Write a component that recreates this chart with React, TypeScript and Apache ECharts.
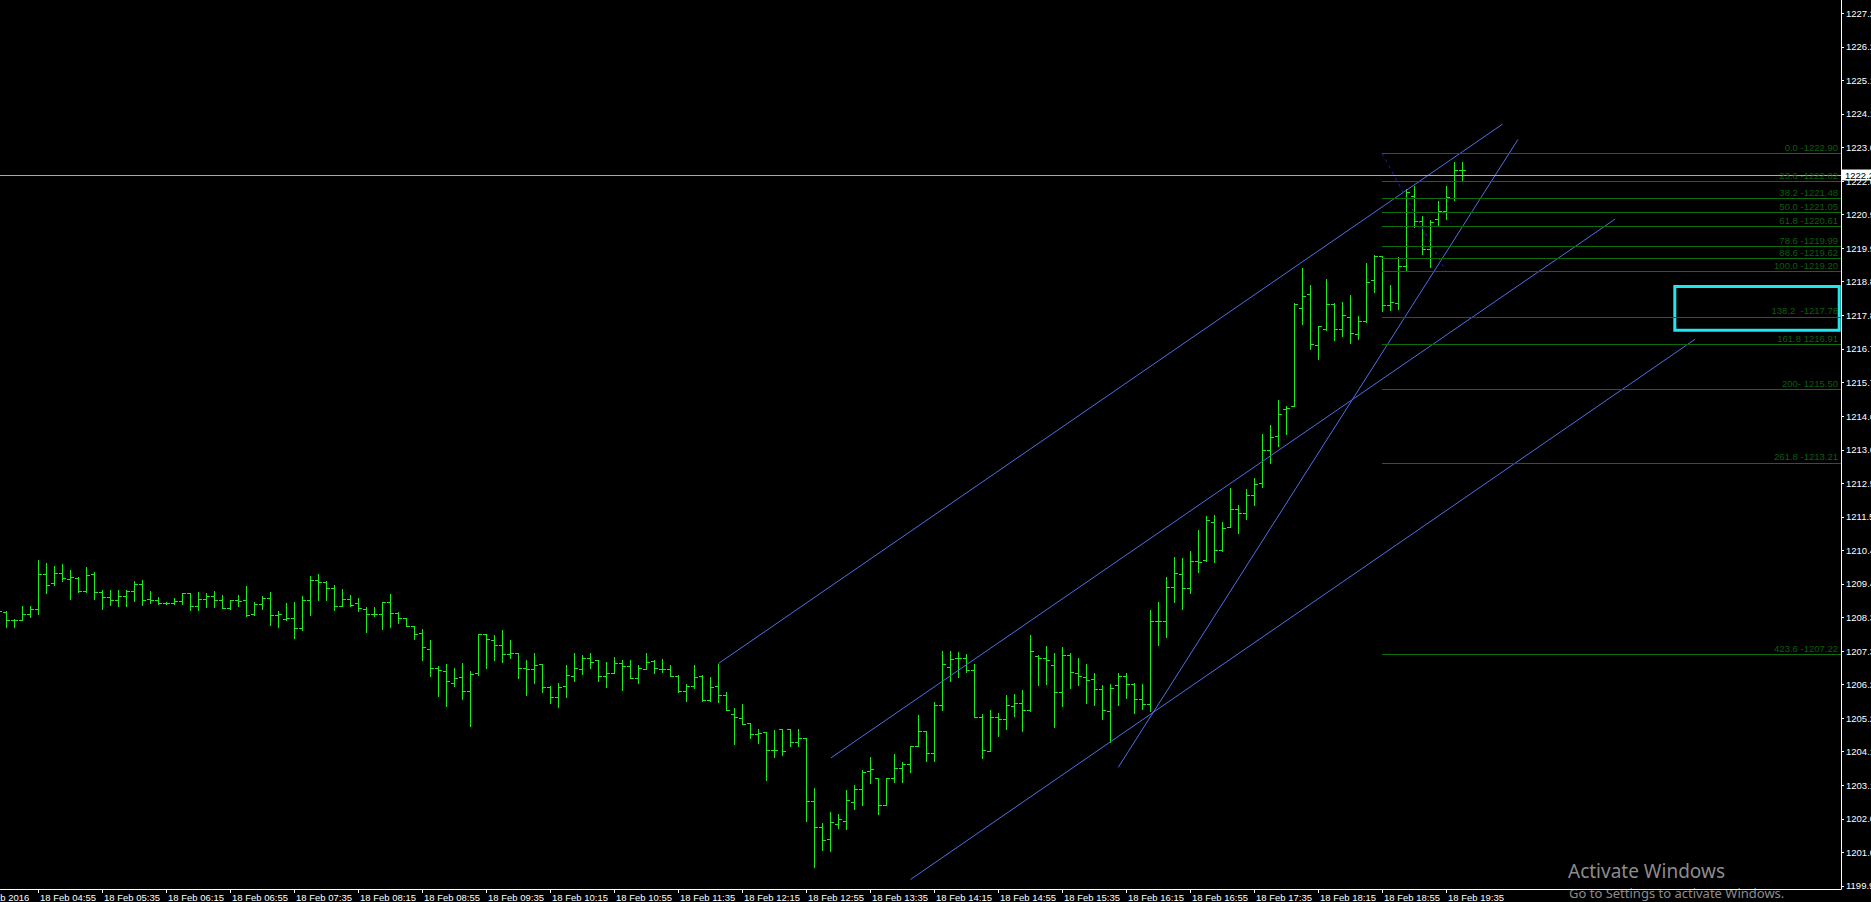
import React, { useEffect, useRef } from "react";
import * as echarts from "echarts";

// 5-minute bars, first bar at 04:30 (index 0)
const FIRST_BAR = "04:30";
const BAR_MINUTES = 5;

const OPEN = [
  1208.61, 1208.53, 1208.29, 1208.29, 1208.47, 1208.63, 1209.74, 1209.46, 1209.77, 1209.59,
  1209.62, 1209.19, 1209.72, 1209.18, 1209.01, 1208.91, 1209.05, 1209.19, 1209.41, 1208.96,
  1208.91, 1208.82, 1208.82, 1208.89, 1209.14, 1208.72, 1208.94, 1209.03, 1208.91, 1208.68,
  1208.93, 1208.91, 1208.48, 1208.80, 1208.98, 1208.46, 1208.33, 1208.35, 1208.04, 1208.91,
  1209.55, 1209.48, 1209.29, 1208.72, 1208.94, 1208.83, 1208.64, 1208.47, 1208.47, 1208.85,
  1208.51, 1208.35, 1208.10, 1207.87, 1207.39, 1206.79, 1206.69, 1206.31, 1206.50, 1206.08,
  1206.62, 1207.85, 1207.66, 1207.50, 1207.23, 1207.25, 1206.78, 1206.76, 1206.91, 1206.20,
  1205.88, 1206.22, 1206.53, 1206.76, 1207.11, 1207.03, 1206.54, 1206.62, 1206.96, 1206.85,
  1206.48, 1206.76, 1207.01, 1206.77, 1206.77, 1206.55, 1206.06, 1206.22, 1206.54, 1205.80,
  1206.22, 1205.94, 1205.36, 1205.23, 1205.06, 1204.72, 1204.79, 1204.22, 1204.87, 1204.87,
  1204.48, 1204.59, 1202.62, 1201.80, 1201.44, 1201.92, 1201.99, 1202.59, 1202.99, 1203.57,
  1203.35, 1202.49, 1203.34, 1203.66, 1203.79, 1204.34, 1204.81, 1204.13, 1205.63, 1206.83,
  1207.11, 1207.10, 1206.73, 1205.27, 1204.19, 1205.25, 1205.18, 1205.60, 1205.68, 1205.47,
  1207.16, 1207.09, 1206.87, 1206.03, 1207.19, 1206.62, 1206.51, 1206.45, 1206.13, 1205.44,
  1206.25, 1206.53, 1206.28, 1205.81, 1205.65, 1208.26, 1208.26, 1209.32, 1209.73, 1209.28,
  1210.13, 1210.16, 1211.35, 1210.47, 1211.19, 1211.77, 1211.63, 1212.20, 1212.57, 1213.61,
  1214.06, 1214.89, 1215.00, 1218.05, 1218.49, 1216.89, 1217.39, 1218.19, 1217.40, 1217.78,
  1217.23, 1217.64, 1218.93, 1219.68, 1218.14, 1218.21, 1219.37, 1221.55, 1220.78, 1219.89,
  1220.84, 1221.09, 1221.51, 1222.38,
];
const HIGH = [
  1208.66, 1208.56, 1208.33, 1208.73, 1208.73, 1210.17, 1210.08, 1209.99, 1210.05, 1209.86,
  1209.63, 1209.94, 1209.80, 1209.24, 1209.24, 1209.24, 1209.24, 1209.52, 1209.55, 1209.20,
  1209.01, 1208.86, 1208.98, 1209.14, 1209.14, 1209.16, 1209.14, 1209.20, 1209.08, 1208.92,
  1209.08, 1209.36, 1208.85, 1209.03, 1209.16, 1208.56, 1208.82, 1208.86, 1209.03, 1209.67,
  1209.74, 1209.52, 1209.39, 1209.27, 1209.08, 1208.97, 1208.70, 1208.70, 1208.86, 1209.11,
  1208.54, 1208.35, 1208.12, 1208.01, 1207.67, 1206.86, 1206.91, 1206.79, 1206.95, 1206.70,
  1207.85, 1207.85, 1207.83, 1207.98, 1207.67, 1207.25, 1207.04, 1207.25, 1206.91, 1206.24,
  1206.31, 1206.89, 1207.25, 1207.20, 1207.25, 1207.03, 1206.98, 1207.12, 1207.04, 1207.04,
  1206.89, 1207.26, 1207.04, 1207.07, 1206.89, 1206.58, 1206.28, 1206.89, 1206.56, 1206.50,
  1206.92, 1206.04, 1205.53, 1205.66, 1205.08, 1204.87, 1204.79, 1204.86, 1204.87, 1204.88,
  1204.88, 1204.59, 1203.02, 1201.93, 1202.28, 1202.22, 1202.98, 1203.13, 1203.59, 1203.99,
  1203.35, 1203.34, 1204.09, 1203.86, 1204.35, 1205.32, 1204.81, 1205.74, 1207.32, 1207.32,
  1207.30, 1207.22, 1206.92, 1205.35, 1205.48, 1205.39, 1205.95, 1205.98, 1206.10, 1207.82,
  1207.19, 1207.48, 1207.26, 1207.45, 1207.25, 1207.10, 1206.92, 1206.62, 1206.25, 1206.29,
  1206.62, 1206.62, 1206.32, 1206.29, 1208.61, 1208.87, 1209.64, 1210.26, 1210.24, 1210.46,
  1211.11, 1211.55, 1211.58, 1211.37, 1212.42, 1211.89, 1212.40, 1212.75, 1214.12, 1214.40,
  1215.18, 1215.00, 1218.21, 1219.32, 1218.78, 1217.50, 1218.97, 1218.20, 1218.25, 1218.47,
  1217.81, 1219.47, 1219.72, 1219.69, 1218.78, 1219.64, 1221.78, 1221.88, 1220.94, 1220.80,
  1221.41, 1221.88, 1222.62, 1222.62,
];
const LOW = [
  1208.48, 1208.06, 1208.06, 1208.28, 1208.40, 1208.49, 1209.15, 1209.39, 1209.50, 1208.95,
  1209.18, 1209.18, 1208.95, 1208.64, 1208.77, 1208.74, 1208.73, 1208.89, 1208.77, 1208.82,
  1208.78, 1208.78, 1208.78, 1208.78, 1208.62, 1208.62, 1208.70, 1208.70, 1208.66, 1208.64,
  1208.74, 1208.43, 1208.46, 1208.64, 1208.14, 1208.08, 1208.28, 1207.74, 1207.97, 1208.45,
  1208.92, 1208.92, 1208.62, 1208.72, 1208.74, 1208.56, 1207.93, 1208.43, 1208.02, 1208.06,
  1208.20, 1208.09, 1207.70, 1207.05, 1206.55, 1205.90, 1205.61, 1206.24, 1205.83, 1204.99,
  1206.56, 1206.80, 1207.05, 1206.99, 1207.11, 1206.49, 1205.93, 1206.33, 1206.05, 1205.68,
  1205.56, 1205.89, 1206.39, 1206.60, 1206.80, 1206.39, 1206.18, 1206.62, 1206.11, 1206.47,
  1206.33, 1206.75, 1206.62, 1206.65, 1206.53, 1206.05, 1205.77, 1206.16, 1205.76, 1205.76,
  1205.74, 1205.46, 1204.42, 1205.04, 1204.59, 1204.44, 1203.30, 1204.02, 1204.08, 1204.35,
  1204.36, 1202.01, 1200.57, 1201.09, 1201.07, 1201.77, 1201.76, 1202.38, 1202.50, 1203.20,
  1202.23, 1202.49, 1203.23, 1203.23, 1203.53, 1204.34, 1203.89, 1203.89, 1205.46, 1206.38,
  1206.52, 1206.65, 1205.27, 1203.98, 1204.19, 1204.67, 1204.88, 1205.29, 1204.83, 1205.45,
  1206.26, 1206.29, 1204.95, 1205.61, 1206.17, 1206.27, 1205.69, 1205.64, 1205.20, 1204.48,
  1205.64, 1205.86, 1205.39, 1205.50, 1205.45, 1207.52, 1207.77, 1208.85, 1208.65, 1209.15,
  1209.81, 1210.15, 1210.12, 1210.46, 1211.19, 1211.03, 1211.45, 1211.90, 1212.47, 1213.20,
  1213.75, 1214.12, 1215.00, 1217.57, 1216.78, 1216.45, 1217.36, 1217.06, 1217.17, 1216.97,
  1217.09, 1217.63, 1218.56, 1217.97, 1217.98, 1218.04, 1219.25, 1220.58, 1219.76, 1219.35,
  1220.63, 1220.83, 1221.44, 1222.02,
];
const CLOSE = [
  1208.56, 1208.29, 1208.30, 1208.47, 1208.63, 1209.74, 1209.39, 1209.77, 1209.60, 1209.63,
  1209.19, 1209.69, 1209.16, 1209.01, 1208.91, 1209.05, 1209.21, 1209.41, 1208.91, 1208.91,
  1208.82, 1208.83, 1208.89, 1209.14, 1208.72, 1208.94, 1209.05, 1208.91, 1208.68, 1208.91,
  1208.89, 1208.46, 1208.80, 1208.98, 1208.46, 1208.49, 1208.35, 1208.04, 1208.91, 1209.55,
  1209.48, 1209.29, 1208.72, 1208.94, 1208.76, 1208.66, 1208.47, 1208.47, 1208.85, 1208.51,
  1208.35, 1208.12, 1207.86, 1207.44, 1206.79, 1206.72, 1206.38, 1206.49, 1206.06, 1206.60,
  1207.85, 1207.71, 1207.50, 1207.22, 1207.25, 1206.78, 1206.77, 1206.88, 1206.20, 1205.88,
  1206.21, 1206.56, 1206.80, 1207.09, 1206.98, 1206.54, 1206.62, 1206.94, 1206.85, 1206.48,
  1206.78, 1206.99, 1206.80, 1206.76, 1206.55, 1206.06, 1206.22, 1206.50, 1205.79, 1206.20,
  1205.94, 1205.46, 1205.27, 1205.05, 1204.72, 1204.76, 1204.21, 1204.23, 1204.18, 1204.48,
  1204.59, 1202.62, 1201.82, 1201.42, 1201.96, 1202.06, 1202.67, 1203.01, 1203.54, 1203.63,
  1202.49, 1203.34, 1203.66, 1203.77, 1204.34, 1204.81, 1204.14, 1205.63, 1206.91, 1207.08,
  1207.10, 1206.73, 1205.27, 1204.21, 1205.25, 1205.18, 1205.63, 1205.68, 1205.47, 1207.31,
  1207.11, 1207.05, 1206.03, 1207.19, 1206.65, 1206.53, 1206.40, 1206.12, 1205.48, 1206.15,
  1206.53, 1206.28, 1205.81, 1205.65, 1208.26, 1208.26, 1209.32, 1209.75, 1209.28, 1210.13,
  1210.11, 1211.42, 1210.47, 1211.17, 1211.77, 1211.63, 1212.20, 1212.55, 1213.61, 1214.03,
  1214.73, 1214.94, 1218.18, 1218.42, 1216.94, 1217.48, 1218.19, 1217.39, 1217.84, 1217.27,
  1217.66, 1218.87, 1219.70, 1218.14, 1218.23, 1219.37, 1221.69, 1220.78, 1219.92, 1220.75,
  1221.09, 1221.53, 1222.38, 1222.37,
];

const X_TICKS = [
  { time: "04:15", label: "18 Feb 2016" },
  { time: "04:55", label: "18 Feb 04:55" },
  { time: "05:35", label: "18 Feb 05:35" },
  { time: "06:15", label: "18 Feb 06:15" },
  { time: "06:55", label: "18 Feb 06:55" },
  { time: "07:35", label: "18 Feb 07:35" },
  { time: "08:15", label: "18 Feb 08:15" },
  { time: "08:55", label: "18 Feb 08:55" },
  { time: "09:35", label: "18 Feb 09:35" },
  { time: "10:15", label: "18 Feb 10:15" },
  { time: "10:55", label: "18 Feb 10:55" },
  { time: "11:35", label: "18 Feb 11:35" },
  { time: "12:15", label: "18 Feb 12:15" },
  { time: "12:55", label: "18 Feb 12:55" },
  { time: "13:35", label: "18 Feb 13:35" },
  { time: "14:15", label: "18 Feb 14:15" },
  { time: "14:55", label: "18 Feb 14:55" },
  { time: "15:35", label: "18 Feb 15:35" },
  { time: "16:15", label: "18 Feb 16:15" },
  { time: "16:55", label: "18 Feb 16:55" },
  { time: "17:35", label: "18 Feb 17:35" },
  { time: "18:15", label: "18 Feb 18:15" },
  { time: "18:55", label: "18 Feb 18:55" },
  { time: "19:35", label: "18 Feb 19:35" },
];

const Y_TICKS = [
  1199.97, 1201.02, 1202.07, 1203.12, 1204.17, 1205.22, 1206.27, 1207.32, 1208.37, 1209.42,
  1210.47, 1211.52, 1212.57, 1213.62, 1214.67, 1215.73, 1216.78, 1217.83, 1218.88, 1219.93,
  1220.98, 1222.03, 1223.08, 1224.13, 1225.18, 1226.23, 1227.28,
];

const BID = 1222.22;

const FIB_PRICES = [
  1222.90, 1222.02, 1221.48, 1221.05, 1220.61, 1219.99, 1219.62, 1219.20, 1217.78, 1216.91,
  1215.50, 1213.21, 1207.22,
];
const FIB_LABELS = [
  "0.0 -1222.90", "23.6 -1222.02", "38.2 -1221.48", "50.0 -1221.05", "61.8 -1220.61",
  "78.6 -1219.99", "88.6 -1219.62", "100.0 -1219.20", "138.2\u00a0\u00a0-1217.78",
  "161.8 1216.91", "200- 1215.50", "261.8 -1213.21", "423.6 -1207.22",
];
// fib anchor: from 18:55 bar at 1222.90 to 19:35 bar at 1219.20
const FIB_ANCHOR = [
  ["18:55", 1222.9],
  ["19:35", 1219.2],
];

// trend lines as [bar position, price] pairs
const TRENDLINES = [
  [[90.05, 1206.93], [188.05, 1223.81]],
  [[104.13, 1203.98], [202.13, 1220.84]],
  [[114.06, 1200.17], [212.13, 1217.08]],
  [[140.03, 1203.68], [189.99, 1223.33]],
];

const BOX = [[209.6, 1218.73], [230.15, 1217.36]];

const X_MIN = -4.75;
const X_MAX = 230.375;
const Y_MIN = 1199.873;
const Y_MAX = 1227.698;

const GREEN = "#1ee81e";
const TREND = "#4f6fe8";
const FIB_LINE = "#0b6e0b";
const FIB_TEXT = "#0c5e0c";
const FONT = "Liberation Sans";

function barIndex(t: string): number {
  const [h, m] = t.split(":").map(Number);
  const [h0, m0] = FIRST_BAR.split(":").map(Number);
  return (h * 60 + m - (h0 * 60 + m0)) / BAR_MINUTES;
}

export default function App() {
  const ref = useRef<HTMLDivElement>(null);

  useEffect(() => {
    document.body.style.margin = "0";
    document.body.style.background = "#000";
    if (!ref.current) return;
    const chart = echarts.init(ref.current, undefined, { renderer: "svg" });

    const ohlc = OPEN.map((o, i) => [i, o, HIGH[i], LOW[i], CLOSE[i]]);
    const xTickPos = X_TICKS.map((t) => barIndex(t.time));
    const labelAt = (v: number) => {
      const k = xTickPos.findIndex((p) => Math.abs(p - v) < 0.01);
      return k >= 0 ? X_TICKS[k].label : "";
    };

    const fibStart = barIndex(FIB_ANCHOR[0][0] as string);

    const option: any = {
      animation: false,
      backgroundColor: "#000",
      grid: {
        left: -40,
        right: 30,
        top: 0,
        bottom: 13,
        containLabel: false,
        outerBoundsMode: "none",
      },
      xAxis: {
        type: "value",
        min: X_MIN,
        max: X_MAX,
        position: "bottom",
        splitLine: { show: false },
        axisLine: { show: true, onZero: false, lineStyle: { color: "#fff", width: 1 } },
        axisTick: {
          show: true,
          customValues: xTickPos,
          length: 4,
          lineStyle: { color: "#fff", width: 1 },
        },
        axisLabel: {
          customValues: xTickPos,
          formatter: (v: number) => labelAt(v),
          color: "#fff",
          fontSize: 9.5,
          fontFamily: FONT,
          align: "left",
          margin: 3,
          padding: [0, 0, 0, 2],
        },
      },
      yAxis: {
        type: "value",
        position: "right",
        min: Y_MIN,
        max: Y_MAX,
        splitLine: { show: false },
        axisLine: { show: true, onZero: false, lineStyle: { color: "#fff", width: 1 } },
        axisTick: {
          show: true,
          customValues: Y_TICKS,
          length: 3,
          lineStyle: { color: "#fff", width: 1 },
        },
        axisLabel: {
          customValues: Y_TICKS,
          formatter: (v: number) => v.toFixed(2),
          color: "#fff",
          fontSize: 9.5,
          fontFamily: FONT,
          margin: 5,
          align: "left",
        },
      },
      series: [
        {
          type: "custom",
          name: "XAUUSD",
          data: ohlc,
          encode: { x: 0, y: [1, 2, 3, 4] },
          silent: true,
          z: 3,
          renderItem: (params: any, api: any) => {
            const i = api.value(0);
            const po = api.coord([i, api.value(1)]);
            const ph = api.coord([i, api.value(2)]);
            const pl = api.coord([i, api.value(3)]);
            const pc = api.coord([i, api.value(4)]);
            const px = Math.round(po[0]);
            const x = px + 0.5;
            const style = { stroke: GREEN, lineWidth: 1 };
            const oy = Math.round(po[1]) + 0.5;
            const cy = Math.round(pc[1]) + 0.5;
            return {
              type: "group",
              children: [
                {
                  type: "line",
                  shape: { x1: x, y1: Math.round(ph[1]), x2: x, y2: Math.round(pl[1]) + 1 },
                  style,
                },
                { type: "line", shape: { x1: px - 3, y1: oy, x2: px, y2: oy }, style },
                { type: "line", shape: { x1: px + 1, y1: cy, x2: px + 4, y2: cy }, style },
              ],
            };
          },
          markLine: {
            silent: true,
            symbol: ["none", "none"],
            lineStyle: { color: "#a9a9b8", width: 1, type: "solid" },
            label: {
              position: "end",
              distance: 1,
              formatter: () => BID.toFixed(2),
              color: "#000",
              backgroundColor: "#fff",
              padding: [1, 4, 0, 3],
              fontSize: 9.5,
              fontFamily: FONT,
            },
            data: [{ yAxis: BID }],
          },
          markArea: {
            silent: true,
            itemStyle: { color: "rgba(0,0,0,0)", borderColor: "#22e6ee", borderWidth: 3 },
            data: [[{ coord: BOX[0] }, { coord: BOX[1] }]],
          },
        },
        ...TRENDLINES.map((seg, k) => ({
          type: "line",
          name: "trend" + k,
          data: seg,
          symbol: "none",
          showSymbol: false,
          silent: true,
          z: 4,
          lineStyle: { color: TREND, width: 1 },
        })),
        {
          type: "line",
          name: "fibo",
          data: FIB_ANCHOR.map((a) => [barIndex(a[0] as string), a[1]]),
          symbol: "none",
          showSymbol: false,
          silent: true,
          z: 4,
          lineStyle: { color: "#1c1cd0", width: 1, type: [3, 4] },
          markLine: {
            silent: true,
            symbol: ["none", "none"],
            lineStyle: { color: FIB_LINE, width: 1, type: "solid" },
            label: {
              show: true,
              position: "insideEndTop",
              distance: [3, 1],
              formatter: (p: any) => p.name,
              color: FIB_TEXT,
              fontSize: 9.5,
              fontFamily: FONT,
            },
            data: FIB_PRICES.map((p, k) => [
              { name: FIB_LABELS[k], coord: [fibStart, p] },
              { coord: [X_MAX, p] },
            ]),
          },
        },
      ],
      graphic: [
        {
          type: "text",
          left: 1568,
          top: 861,
          silent: true,
          style: {
            text: "Activate Windows",
            fill: "#8c8c8c",
            font: "19px 'Noto Sans'",
          },
        },
        {
          type: "text",
          left: 1569,
          top: 886,
          silent: true,
          style: {
            text: "Go to Settings to activate Windows.",
            fill: "#8c8c8c",
            font: "13px 'Noto Sans'",
          },
        },
      ],
    };

    chart.setOption(option);
    return () => chart.dispose();
  }, []);

  return (
    <div
      ref={ref}
      style={{ position: "fixed", left: 0, top: 0, width: 1871, height: 902, background: "#000" }}
    />
  );
}
